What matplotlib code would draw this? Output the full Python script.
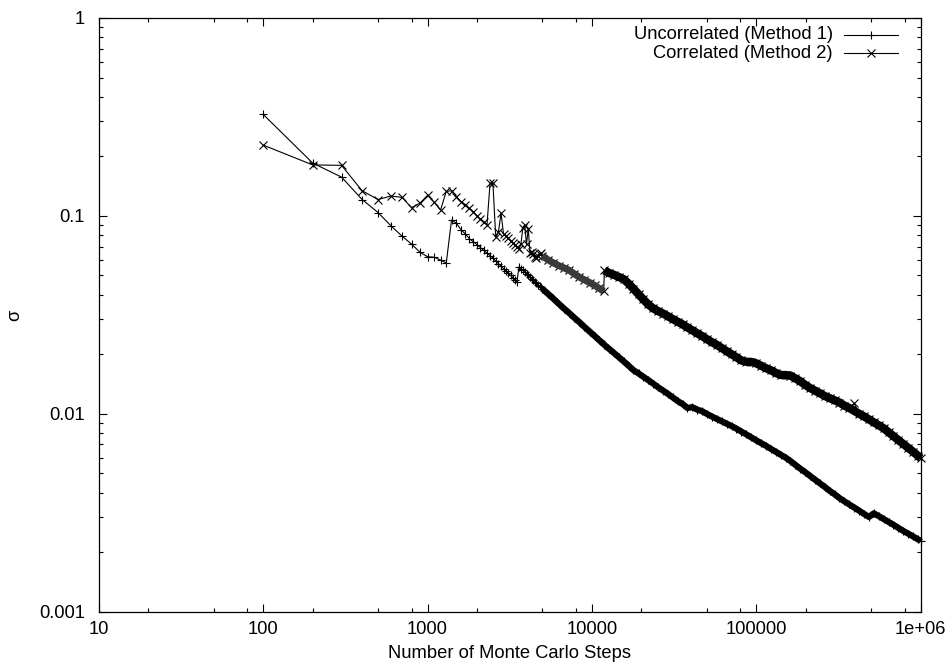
import numpy as np
import matplotlib.pyplot as plt
from matplotlib.ticker import LogLocator, NullFormatter

plt.rcParams['font.family'] = ['Liberation Sans', 'DejaVu Sans']

# early samples, one every 100 steps
steps_early = [100, 200, 300, 400, 500, 600, 700, 800, 900, 1000,
               1100, 1200, 1300, 1400, 1500, 1600, 1700, 1800, 1900, 2000,
               2100, 2200, 2300, 2400, 2500, 2600, 2700, 2800, 2900, 3000,
               3100, 3200, 3300, 3400, 3500, 3600, 3700, 3800, 3900, 4000,
               4100, 4200, 4300, 4400, 4500, 4600, 4700, 4800, 4900, 5000]
uncorr_early = [0.326, 0.185, 0.157, 0.121, 0.104, 0.089, 0.079, 0.072, 0.0655, 0.0622,
                0.0618, 0.0598, 0.0578, 0.0953, 0.0917, 0.085, 0.081, 0.0765, 0.0741, 0.0715,
                0.0691, 0.0669, 0.0648, 0.0630, 0.0611, 0.0592, 0.0574, 0.0557, 0.0542, 0.0527,
                0.0513, 0.0500, 0.0488, 0.0476, 0.0465, 0.0553, 0.0542, 0.0530, 0.0520, 0.0509,
                0.0500, 0.0491, 0.0482, 0.0473, 0.0465, 0.0456, 0.0449, 0.0442, 0.0435, 0.0428]
corr_early = [0.228, 0.181, 0.180, 0.134, 0.121, 0.126, 0.124, 0.110, 0.116, 0.127,
              0.117, 0.107, 0.133, 0.134, 0.125, 0.118, 0.114, 0.109, 0.105, 0.100,
              0.096, 0.093, 0.090, 0.146, 0.146, 0.078, 0.083, 0.103, 0.081, 0.079,
              0.077, 0.075, 0.073, 0.071, 0.070, 0.068, 0.072, 0.087, 0.090, 0.072,
              0.086, 0.065, 0.066, 0.064, 0.062, 0.061, 0.063, 0.064, 0.065, 0.063]

# later samples
steps_late = [5400, 5800, 6300, 6800, 7300, 7800, 8400, 9000, 9700, 10400,
              11100, 11800, 11900, 12700, 13600, 14600, 15600, 16700, 17900, 19200,
              20500, 22000, 23600, 25300, 27100, 29000, 31000, 33200, 35600, 38100,
              40800, 43700, 46800, 50100, 53700, 57500, 61600, 66000, 70700, 75700,
              81100, 86900, 93100, 99700, 106800, 114400, 122500, 131200, 140500, 150500,
              161200, 172700, 185000, 198100, 212200, 227300, 243500, 260800, 279300, 299200,
              320500, 343300, 367700, 393800, 421800, 451800, 483900, 518300, 555200, 594700,
              637000, 682300, 730800, 782800, 838500, 898100, 962000, 1000000]
uncorr_late = [0.0404, 0.0383, 0.0359, 0.0339, 0.0322, 0.0306, 0.0290, 0.0275, 0.0260, 0.0247,
               0.0235, 0.0225, 0.0223, 0.0213, 0.0203, 0.0193, 0.0184, 0.0175, 0.0166, 0.0160,
               0.0154, 0.0148, 0.0142, 0.0136, 0.0131, 0.0126, 0.0121, 0.0116, 0.0112, 0.0107,
               0.0108, 0.0105, 0.0103, 0.00998, 0.00968, 0.00942, 0.00916, 0.00891, 0.00867, 0.00841,
               0.00813, 0.00787, 0.00760, 0.00735, 0.00711, 0.00689, 0.00665, 0.00643, 0.00621, 0.00601,
               0.00577, 0.00552, 0.00528, 0.00507, 0.00485, 0.00465, 0.00445, 0.00427, 0.00408, 0.00392,
               0.00375, 0.00361, 0.00348, 0.00336, 0.00324, 0.00312, 0.00301, 0.00314, 0.00304, 0.00294,
               0.00284, 0.00275, 0.00265, 0.00256, 0.00248, 0.00240, 0.00232, 0.00228]
corr_late = [0.060, 0.058, 0.056, 0.0545, 0.053, 0.051, 0.049, 0.0475, 0.046, 0.0445,
             0.043, 0.0415, 0.053, 0.0515, 0.0504, 0.0491, 0.0479, 0.0455, 0.0428, 0.0402,
             0.0379, 0.0357, 0.0341, 0.0330, 0.0321, 0.0311, 0.0301, 0.0292, 0.0283, 0.0273,
             0.0264, 0.0255, 0.0247, 0.0238, 0.0230, 0.0223, 0.0215, 0.0207, 0.0200, 0.0193,
             0.0186, 0.0183, 0.0183, 0.0180, 0.0175, 0.0170, 0.0166, 0.0161, 0.0157, 0.0157,
             0.0156, 0.0151, 0.0146, 0.0140, 0.0135, 0.0131, 0.0127, 0.0123, 0.0120, 0.0117,
             0.0114, 0.0110, 0.0107, 0.0113, 0.0100, 0.0097, 0.00937, 0.00905, 0.00875, 0.00845,
             0.00807, 0.00771, 0.00736, 0.00704, 0.00673, 0.00643, 0.00613, 0.00597]

labels = ['Uncorrelated (Method 1)', 'Correlated (Method 2)']
markers = ['+', 'x']

steps = np.array(steps_early + steps_late)
series = [np.array(uncorr_early + uncorr_late), np.array(corr_early + corr_late)]

fig = plt.figure(figsize=(9.5, 6.69), dpi=100)
ax = fig.add_axes([0.1039, 0.0857, 0.8653, 0.8874])

for ys, mk in zip(series, markers):
    ax.plot(steps, ys, color='black', lw=0.8, marker=mk, ms=5.5, mew=0.8, clip_on=False)

# past a few thousand steps the points sit so close that they merge into a thick band
n0 = len(steps_early) - 1
n_jump = len(steps_early) + steps_late.index(11900)
n_out = len(steps_early) + steps_late.index(393800)   # lone stray point, kept off the band
ax.plot(steps[n0:], series[0][n0:], color='black', lw=4.5, solid_capstyle='butt',
        clip_on=False)
ax.plot(steps[n0:n_jump], series[1][n0:n_jump], color='#3a3a3a', lw=5.0,
        solid_capstyle='butt', clip_on=False)
keep = np.arange(n_jump, len(steps))
keep = keep[keep != n_out]
ax.plot(steps[keep], series[1][keep], color='black', lw=6.0, solid_capstyle='butt',
        clip_on=False)

ax.set_xscale('log')
ax.set_yscale('log')
ax.set_xlim(10, 1e6)
ax.set_ylim(0.001, 1)

fs = 13.2
ax.set_xticks([10, 100, 1000, 10000, 100000, 1e6],
              ['10', '100', '1000', '10000', '100000', '1e+06'], fontsize=fs)
ax.set_yticks([0.001, 0.01, 0.1, 1], ['0.001', '0.01', '0.1', '1'], fontsize=fs)
ax.xaxis.set_minor_locator(LogLocator(base=10, subs=(2, 5, 8), numticks=20))
ax.yaxis.set_minor_locator(LogLocator(base=10, subs=np.arange(2, 10), numticks=20))
ax.xaxis.set_minor_formatter(NullFormatter())
ax.yaxis.set_minor_formatter(NullFormatter())
ax.tick_params(which='both', direction='in', top=True, right=True, width=0.8)
ax.tick_params(which='major', length=6, pad=7)
ax.tick_params(axis='y', which='major', pad=10)
ax.tick_params(which='minor', length=3)
for sp in ax.spines.values():
    sp.set_linewidth(0.9)

ax.set_xlabel('Number of Monte Carlo Steps', fontsize=fs, labelpad=5)
ax.set_ylabel('σ', fontsize=fs, labelpad=11)

# legend: right-aligned text followed by a line sample
for i, (lab, mk) in enumerate(zip(labels, markers)):
    y = 0.9714 - i * 0.031
    ax.text(0.893, y, lab, transform=ax.transAxes, ha='right', va='center', fontsize=fs)
    ax.plot([0.9066, 0.9727], [y, y], transform=ax.transAxes, color='black', lw=0.8,
            clip_on=False)
    ax.plot([0.9398], [y], transform=ax.transAxes, color='black', marker=mk, ms=5.5,
            mew=0.8, clip_on=False)

fig.savefig('out.png', dpi=100)
